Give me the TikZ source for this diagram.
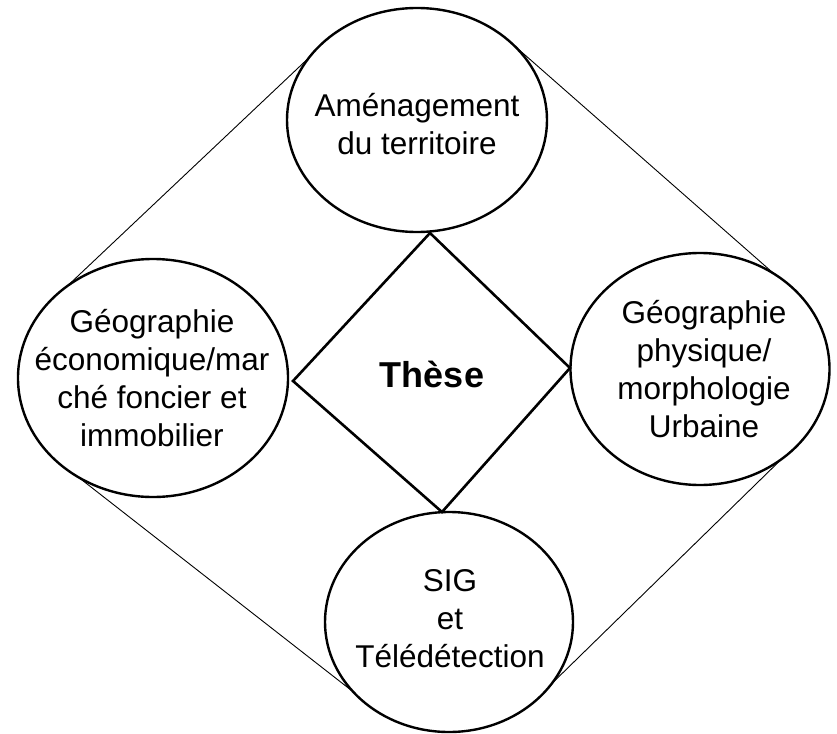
\documentclass[tikz,border=0pt]{standalone}
\usepackage{fontspec}
\setmainfont{Liberation Sans}
\usetikzlibrary{shapes.geometric}
\begin{document}
\begin{tikzpicture}[x=1pt,y=-1pt,
  ell/.style={draw, ellipse, line width=2.4pt, inner sep=0pt, outer sep=0pt},
  lbl/.style={align=center, anchor=base, inner sep=0pt, font=\fontsize{31.5}{38}\selectfont},
  tangent/.style={line width=0.9pt},
  diam/.style={line width=2.6pt, line join=miter}]
\useasboundingbox (0,0) rectangle (837,733);
% ellipses
\node[ell, minimum width=260pt, minimum height=224pt] (top) at (417,120) {};
\node[ell, minimum width=270pt, minimum height=238pt] (left) at (153,378) {};
\node[ell, minimum width=259pt, minimum height=232pt] (right) at (700,369) {};
\node[ell, minimum width=248pt, minimum height=220pt] (bottom) at (449,622) {};
% texts (base anchor = baseline of the last line)
\node[lbl] (toptext) at (417,154) {Aménagement\\du territoire};
\node[lbl] (lefttext) at (152,446) {Géographie\\économique/mar\\ché foncier et\\immobilier};
\node[lbl] (righttext) at (704,437) {Géographie\\physique/\\morphologie\\Urbaine};
\node[lbl] (bottomtext) at (450,667) {SIG\\et\\Télédétection};
% diamond
\coordinate (dt) at (430,233);
\coordinate (dr) at (570,368);
\coordinate (db) at (442,512);
\coordinate (dl) at (293,381);
\draw[diam] (dt) -- (dr) -- (db) -- (dl) -- cycle;
\node[anchor=base, inner sep=0pt, font=\fontsize{36}{43}\selectfont\bfseries] (these) at (432,387) {Thèse};
% outer lines
\draw[tangent] (top.150) -- (left.133);
\draw[tangent] (top.42) -- (right.52);
\draw[tangent] (left.233) -- (bottom.216);
\draw[tangent] (right.-48) -- (bottom.-31);
\end{tikzpicture}
\end{document}
